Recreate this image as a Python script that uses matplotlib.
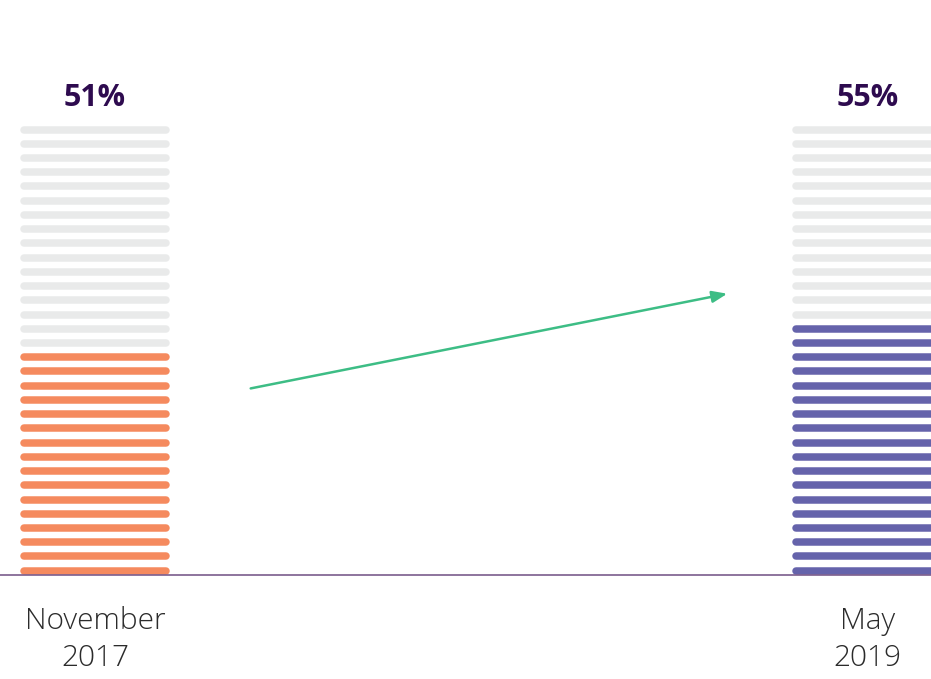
import matplotlib.pyplot as plt

# data
periods = ['November\n2017', 'May\n2019']
shares = [51, 55]          # percent
bar_colors = ['#f58a5e', '#6563ab']
n_stripes = 32             # stripes per bar = 100%

fig = plt.figure(figsize=(9.31, 6.79), dpi=100)
ax = fig.add_axes([0, 0, 1, 1])

# x: bar centers at 0 and 1, y: stripe index
ax.set_xlim(-0.123, 1.0822)
ax.set_ylim(-7.61, 40.1)
ax.axis('off')

half_w = 0.092
lw = 5.4
for i, (pct, col) in enumerate(zip(shares, bar_colors)):
    filled = round(pct / 100 * n_stripes)
    for s in range(n_stripes):
        c = col if s < filled else '#e9eaea'
        ax.plot([i - half_w, i + half_w], [s, s], color=c, lw=lw,
                solid_capstyle='round')
    ax.text(i, n_stripes + 1.2, f'{pct}%', ha='center', va='center',
            fontsize=22, fontweight='bold', color='#2e0b4f',
            family='Open Sans')
    ax.text(i, -4.85, periods[i], ha='center', va='center',
            fontsize=21.5, fontweight='light', color='#2b2b2b',
            family='Open Sans', linespacing=1.33)

# baseline
ax.axhline(-0.3, color='#7a5c8c', lw=1.2)

# trend arrow
ax.annotate('', xy=(0.822, 19.5), xytext=(0.198, 12.77),
            arrowprops=dict(arrowstyle='-|>,head_length=0.9,head_width=0.35',
                            color='#3dbd85', lw=1.8))

fig.savefig('out.png', dpi=100)
